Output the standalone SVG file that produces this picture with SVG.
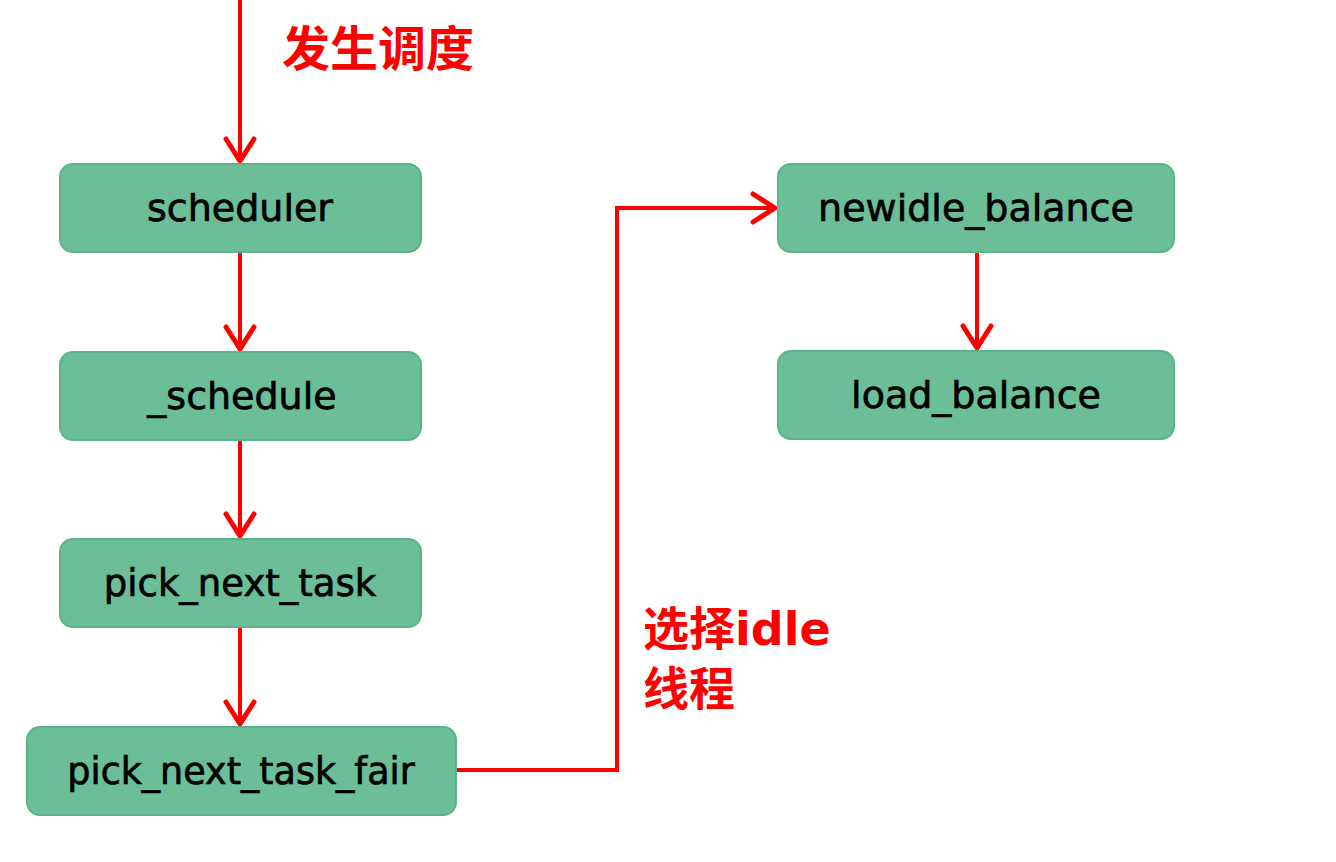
<svg xmlns="http://www.w3.org/2000/svg" width="1336" height="862" viewBox="0 0 1336 862">
<style>
.box{fill:#6bbe98;stroke:#5ab488;stroke-width:2}
.lbl{font-family:"DejaVu Sans",sans-serif;font-size:38px;fill:#000;stroke:#000;stroke-width:0.7;text-anchor:middle}
.note{font-family:"DejaVu Sans","Noto Sans CJK SC",sans-serif;font-weight:bold;font-size:46px;fill:#ff0000}
.con{fill:none;stroke:#ff0000;stroke-width:4;marker-end:url(#arr)}
</style>
<defs>
<marker id="arr" markerUnits="userSpaceOnUse" viewBox="-26 -18 30 36" refX="0" refY="0" markerWidth="30" markerHeight="36" orient="auto">
<path d="M-22,-14 L0,0 L-22,14" fill="none" stroke="#ff0000" stroke-width="5" stroke-linecap="round" stroke-linejoin="round"/>
</marker>
</defs>
<rect width="1336" height="862" fill="#ffffff"/>
<g id="connectors">
<path class="con" d="M240,0 V161"/>
<path class="con" d="M240,252 V349"/>
<path class="con" d="M240,440 V536"/>
<path class="con" d="M240,627 V724"/>
<path class="con" d="M456,770 H617 V208 H775"/>
<path class="con" d="M977,252 V348"/>
</g>
<g id="node-scheduler"><rect class="box" x="60" y="164" width="361" height="88" rx="13"/><text class="lbl" x="240" y="221">scheduler</text></g>
<g id="node-schedule"><rect class="box" x="60" y="352" width="361" height="88" rx="13"/><text class="lbl" x="242" y="409">_schedule</text></g>
<g id="node-pick_next_task"><rect class="box" x="60" y="539" width="361" height="88" rx="13"/><text class="lbl" x="240" y="596" style="font-size:37px">pick_next_task</text></g>
<g id="node-pick_next_task_fair"><rect class="box" x="27" y="727" width="429" height="88" rx="13"/><text class="lbl" x="241" y="784" style="font-size:36.5px">pick_next_task_fair</text></g>
<g id="node-newidle_balance"><rect class="box" x="778" y="164" width="396" height="88" rx="13"/><text class="lbl" x="976" y="221">newidle_balance</text></g>
<g id="node-load_balance"><rect class="box" x="778" y="351" width="396" height="88" rx="13"/><text class="lbl" x="976" y="408">load_balance</text></g>
<g id="labels">
<text class="note" x="282" y="66" style="font-size:48px">发生调度</text>
<text class="note" x="643" y="645">选择idle</text>
<text class="note" x="643" y="705">线程</text>
</g>
</svg>
